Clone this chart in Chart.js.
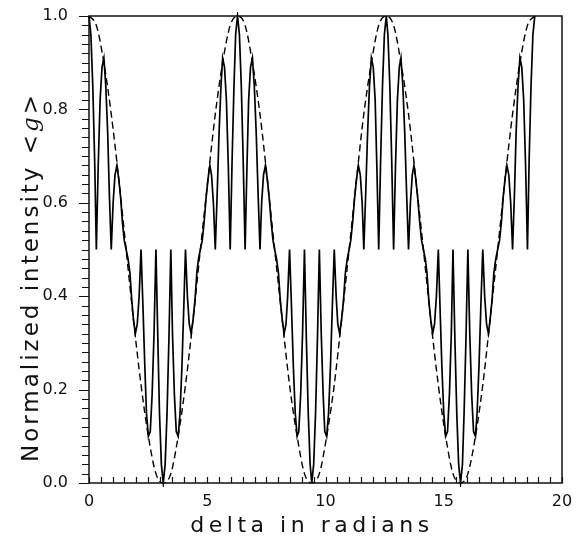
<!DOCTYPE html>
<html lang="en">
  <head>
    <meta charset="UTF-8" />
    <title>Normalized intensity</title>
    <script src="https://cdn.jsdelivr.net/npm/chart.js@4.4.1/dist/chart.umd.min.js"></script>
    <style>
      body {
        margin: 0;
        background: #fff;
      }
      #chart {
        display: block;
      }
    </style>
  </head>

  <body>
    <canvas id="chart" width="584" height="536"></canvas>
  </body>

  <script>
    // solid curve, every ~0.0785 rad
    const delta = [
      0, 0.08, 0.16, 0.24, 0.31, 0.39, 0.47, 0.55, 0.63, 0.71,
      0.79, 0.86, 0.94, 1.02, 1.1, 1.18, 1.26, 1.34, 1.41, 1.49,
      1.57, 1.65, 1.73, 1.81, 1.88, 1.96, 2.04, 2.12, 2.2, 2.28,
      2.36, 2.43, 2.51, 2.59, 2.67, 2.75, 2.83, 2.91, 2.98, 3.06,
      3.14, 3.22, 3.3, 3.38, 3.46, 3.53, 3.61, 3.69, 3.77, 3.85,
      3.93, 4.01, 4.08, 4.16, 4.24, 4.32, 4.4, 4.48, 4.56, 4.63,
      4.71, 4.79, 4.87, 4.95, 5.03, 5.11, 5.18, 5.26, 5.34, 5.42,
      5.5, 5.58, 5.65, 5.73, 5.81, 5.89, 5.97, 6.05, 6.13, 6.2,
      6.28, 6.36, 6.44, 6.52, 6.6, 6.68, 6.75, 6.83, 6.91, 6.99,
      7.07, 7.15, 7.23, 7.3, 7.38, 7.46, 7.54, 7.62, 7.7, 7.78,
      7.85, 7.93, 8.01, 8.09, 8.17, 8.25, 8.33, 8.4, 8.48, 8.56,
      8.64, 8.72, 8.8, 8.87, 8.95, 9.03, 9.11, 9.19, 9.27, 9.35,
      9.42, 9.5, 9.58, 9.66, 9.74, 9.82, 9.9, 9.97, 10.05, 10.13,
      10.21, 10.29, 10.37, 10.45, 10.52, 10.6, 10.68, 10.76, 10.84, 10.92,
      11.0, 11.07, 11.15, 11.23, 11.31, 11.39, 11.47, 11.55, 11.62, 11.7,
      11.78, 11.86, 11.94, 12.02, 12.1, 12.17, 12.25, 12.33, 12.41, 12.49,
      12.57, 12.64, 12.72, 12.8, 12.88, 12.96, 13.04, 13.12, 13.19, 13.27,
      13.35, 13.43, 13.51, 13.59, 13.67, 13.74, 13.82, 13.9, 13.98, 14.06,
      14.14, 14.22, 14.29, 14.37, 14.45, 14.53, 14.61, 14.69, 14.77, 14.84,
      14.92, 15.0, 15.08, 15.16, 15.24, 15.32, 15.39, 15.47, 15.55, 15.63,
      15.71, 15.79, 15.86, 15.94, 16.02, 16.1, 16.18, 16.26, 16.34, 16.41,
      16.49, 16.57, 16.65, 16.73, 16.81, 16.89, 16.96, 17.04, 17.12, 17.2,
      17.28, 17.36, 17.44, 17.51, 17.59, 17.67, 17.75, 17.83, 17.91, 17.99,
      18.06, 18.14, 18.22, 18.3, 18.38, 18.46, 18.54, 18.61, 18.69, 18.77,
      18.85,
    ];
    const intensity = [
      1.0, 0.96, 0.85, 0.69, 0.5, 0.68, 0.82, 0.89, 0.91, 0.85,
      0.75, 0.62, 0.5, 0.6, 0.66, 0.68, 0.65, 0.61, 0.56, 0.52,
      0.5, 0.48, 0.45, 0.39, 0.35, 0.32, 0.34, 0.4, 0.5, 0.38,
      0.25, 0.15, 0.1, 0.11, 0.19, 0.32, 0.5, 0.31, 0.15, 0.04,
      0.0, 0.04, 0.15, 0.31, 0.5, 0.32, 0.19, 0.11, 0.1, 0.15,
      0.25, 0.38, 0.5, 0.4, 0.34, 0.32, 0.35, 0.39, 0.45, 0.48,
      0.5, 0.52, 0.56, 0.61, 0.65, 0.68, 0.66, 0.6, 0.5, 0.62,
      0.75, 0.85, 0.91, 0.89, 0.82, 0.68, 0.5, 0.69, 0.85, 0.96,
      1.0, 0.96, 0.85, 0.69, 0.5, 0.68, 0.82, 0.89, 0.91, 0.85,
      0.75, 0.62, 0.5, 0.6, 0.66, 0.68, 0.65, 0.61, 0.56, 0.52,
      0.5, 0.48, 0.45, 0.39, 0.35, 0.32, 0.34, 0.4, 0.5, 0.38,
      0.25, 0.15, 0.1, 0.11, 0.19, 0.32, 0.5, 0.31, 0.15, 0.04,
      0.0, 0.04, 0.15, 0.31, 0.5, 0.32, 0.19, 0.11, 0.1, 0.15,
      0.25, 0.38, 0.5, 0.4, 0.34, 0.32, 0.35, 0.39, 0.45, 0.48,
      0.5, 0.52, 0.56, 0.61, 0.65, 0.68, 0.66, 0.6, 0.5, 0.62,
      0.75, 0.85, 0.91, 0.89, 0.82, 0.68, 0.5, 0.69, 0.85, 0.96,
      1.0, 0.96, 0.85, 0.69, 0.5, 0.68, 0.82, 0.89, 0.91, 0.85,
      0.75, 0.62, 0.5, 0.6, 0.66, 0.68, 0.65, 0.61, 0.56, 0.52,
      0.5, 0.48, 0.45, 0.39, 0.35, 0.32, 0.34, 0.4, 0.5, 0.38,
      0.25, 0.15, 0.1, 0.11, 0.19, 0.32, 0.5, 0.31, 0.15, 0.04,
      0.0, 0.04, 0.15, 0.31, 0.5, 0.32, 0.19, 0.11, 0.1, 0.15,
      0.25, 0.38, 0.5, 0.4, 0.34, 0.32, 0.35, 0.39, 0.45, 0.48,
      0.5, 0.52, 0.56, 0.61, 0.65, 0.68, 0.66, 0.6, 0.5, 0.62,
      0.75, 0.85, 0.91, 0.89, 0.82, 0.68, 0.5, 0.69, 0.85, 0.96,
      1.0,
    ];

    // dashed envelope
    const envDelta = [
      0, 0.31, 0.63, 0.94, 1.26, 1.57, 1.88, 2.2, 2.51, 2.83,
      3.14, 3.46, 3.77, 4.08, 4.4, 4.71, 5.03, 5.34, 5.65, 5.97,
      6.28, 6.6, 6.91, 7.23, 7.54, 7.85, 8.17, 8.48, 8.8, 9.11,
      9.42, 9.74, 10.05, 10.37, 10.68, 11.0, 11.31, 11.62, 11.94, 12.25,
      12.57, 12.88, 13.19, 13.51, 13.82, 14.14, 14.45, 14.77, 15.08, 15.39,
      15.71, 16.02, 16.34, 16.65, 16.96, 17.28, 17.59, 17.91, 18.22, 18.54,
      18.85,
    ];
    const envelope = [
      1.0, 0.98, 0.9, 0.79, 0.65, 0.5, 0.35, 0.21, 0.1, 0.02,
      0.0, 0.02, 0.1, 0.21, 0.35, 0.5, 0.65, 0.79, 0.9, 0.98,
      1.0, 0.98, 0.9, 0.79, 0.65, 0.5, 0.35, 0.21, 0.1, 0.02,
      0.0, 0.02, 0.1, 0.21, 0.35, 0.5, 0.65, 0.79, 0.9, 0.98,
      1.0, 0.98, 0.9, 0.79, 0.65, 0.5, 0.35, 0.21, 0.1, 0.02,
      0.0, 0.02, 0.1, 0.21, 0.35, 0.5, 0.65, 0.79, 0.9, 0.98,
      1.0,
    ];

    const xTicks = [0, 5, 10, 15, 20];
    const yTicks = [0.0, 0.2, 0.4, 0.6, 0.8, 1.0];

    const ink = "#111";

    // frame, inward x ticks, outward y ticks and the two axis titles
    const frame = {
      id: "frame",
      afterDraw(chart) {
        const { ctx, chartArea: a, scales } = chart;
        const x = scales.x;
        const y = scales.y;
        ctx.save();
        ctx.strokeStyle = ink;
        ctx.lineWidth = 1.5;
        ctx.strokeRect(a.left, a.top, a.right - a.left, a.bottom - a.top);

        ctx.beginPath();
        for (let i = 0; i <= 40; i++) {
          const px = Math.round(x.getPixelForValue(i * 0.5)) + 0.5;
          ctx.moveTo(px, a.bottom);
          ctx.lineTo(px, a.bottom - 6);
        }
        for (let i = 0; i <= 50; i++) {
          const py = Math.round(y.getPixelForValue(i * 0.02)) + 0.5;
          const len = i % 10 === 0 ? 10 : 7;
          ctx.moveTo(a.left, py);
          ctx.lineTo(a.left - len, py);
        }
        ctx.lineWidth = 1.2;
        ctx.stroke();

        ctx.fillStyle = ink;
        ctx.textBaseline = "alphabetic";

        // x title
        ctx.font = "22px 'DejaVu Sans'";
        ctx.letterSpacing = "4.5px";
        ctx.textAlign = "center";
        ctx.fillText("delta in radians", 312, 532);

        // y title, with italic g
        ctx.translate(38, 277);
        ctx.rotate(-Math.PI / 2);
        ctx.textAlign = "left";
        ctx.letterSpacing = "3px";
        const parts = [
          ["Normalized intensity <", "23px 'DejaVu Sans'"],
          ["g", "italic 23px 'DejaVu Serif'"],
          [">", "23px 'DejaVu Sans'"],
        ];
        let total = 0;
        parts.forEach((p) => {
          ctx.font = p[1];
          total += ctx.measureText(p[0]).width;
        });
        let pos = -total / 2;
        parts.forEach((p) => {
          ctx.font = p[1];
          ctx.fillText(p[0], pos, 0);
          pos += ctx.measureText(p[0]).width;
        });
        ctx.restore();
      },
    };

    const config = {
      type: "line",
      data: {
        datasets: [
          {
            label: "intensity",
            data: delta.map((d, i) => ({ x: d, y: intensity[i] })),
            borderColor: "#000",
            borderWidth: 1.7,
            pointRadius: 0,
            tension: 0,
            clip: 4,
          },
          {
            label: "envelope",
            data: envDelta.map((d, i) => ({ x: d, y: envelope[i] })),
            borderColor: "#000",
            borderWidth: 1.4,
            borderDash: [7, 4],
            pointRadius: 0,
            cubicInterpolationMode: "monotone",
            clip: 4,
          },
        ],
      },
      options: {
        responsive: false,
        animation: false,
        events: [],
        layout: { padding: { top: 16, right: 22, left: 0, bottom: 0 } },
        plugins: {
          legend: { display: false },
          tooltip: { enabled: false },
        },
        scales: {
          x: {
            type: "linear",
            min: 0,
            max: 20,
            afterBuildTicks: (s) => {
              s.ticks = xTicks.map((v) => ({ value: v }));
            },
            afterFit: (s) => {
              s.height = 53;
            },
            grid: { display: false, drawTicks: false },
            border: { display: false },
            ticks: {
              padding: 9,
              color: ink,
              maxRotation: 0,
              font: { family: "'DejaVu Sans'", size: 16 },
              callback: (v) => String(v),
            },
          },
          y: {
            type: "linear",
            min: 0,
            max: 1,
            afterBuildTicks: (s) => {
              s.ticks = yTicks.map((v) => ({ value: v }));
            },
            afterFit: (s) => {
              s.width = 89;
            },
            // invisible tick marks only push the labels left
            grid: {
              display: true,
              drawOnChartArea: false,
              drawTicks: true,
              tickLength: 18,
              tickColor: "rgba(0,0,0,0)",
            },
            border: { display: false },
            ticks: {
              padding: 3,
              color: ink,
              font: { family: "'DejaVu Sans'", size: 16 },
              callback: (v) => Number(v).toFixed(1),
            },
          },
        },
      },
      plugins: [frame],
    };

    const chart = new Chart(document.getElementById("chart"), config);
  </script>
</html>
